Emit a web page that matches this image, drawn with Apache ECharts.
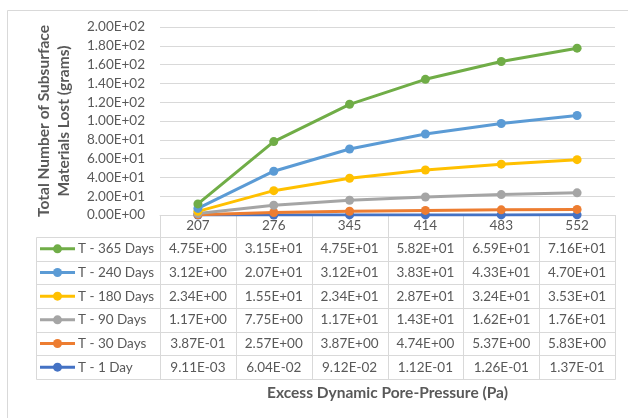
<!DOCTYPE html>
<html><head><meta charset="utf-8">
<script src="https://cdn.jsdelivr.net/npm/echarts@6/dist/echarts.min.js"></script>
<style>html,body{margin:0;padding:0;background:#fff}#c{width:628px;height:418px}</style>
</head><body><div id="c"></div>
<script>
// ---- data ----
const categories = ['207', '276', '345', '414', '483', '552'];
const seriesNames = ['T - 1 Day', 'T - 30 Days', 'T - 90 Days', 'T - 180 Days', 'T - 240 Days', 'T - 365 Days'];
const t1Day   = [0.00911, 0.0604, 0.0912, 0.112, 0.126, 0.137];
const t30Days = [0.387, 2.57, 3.87, 4.74, 5.37, 5.83];
const t90Days = [1.17, 7.75, 11.7, 14.3, 16.2, 17.6];
const t180Days = [2.34, 15.5, 23.4, 28.7, 32.4, 35.3];
const t240Days = [3.12, 20.7, 31.2, 38.3, 43.3, 47.0];
const t365Days = [4.75, 31.5, 47.5, 58.2, 65.9, 71.6];
const yMin = 0, yMax = 200, yInterval = 20;
const xTitle = 'Excess Dynamic Pore-Pressure (Pa)';
const yTitle = 'Total Number of Subsurface\nMaterials Lost (grams)';

// ---- style ----
const seriesData = [t1Day, t30Days, t90Days, t180Days, t240Days, t365Days];
const colors = ['#4472C4', '#ED7D31', '#A5A5A5', '#FFC000', '#5B9BD5', '#70AD47'];
const FONT = 'Lato';
const TXT = '#595959';
const LINE = '#D9D9D9';
const FS = 13.5;
const TFS = 15.5;

function sci(v) {
  if (v === 0) return '0.00E+00';
  const s = v.toExponential(2);
  const parts = s.split('e');
  const e = parseInt(parts[1], 10);
  const n = Math.abs(e);
  return parts[0] + 'E' + (e < 0 ? '-' : '+') + (n < 10 ? '0' : '') + n;
}

const G = { left: 160, right: 13, top: 27, bottom: 203 };
const chart = echarts.init(document.getElementById('c'), null, { renderer: 'canvas' });

chart.setOption({
  animation: false,
  backgroundColor: '#fff',
  textStyle: { fontFamily: FONT },
  grid: { left: G.left, right: G.right, top: G.top, bottom: G.bottom, containLabel: false },
  xAxis: {
    type: 'category',
    data: categories,
    boundaryGap: true,
    axisLine: { show: true, lineStyle: { color: LINE, width: 1 } },
    axisTick: { show: false },
    axisLabel: { color: TXT, fontSize: FS, fontFamily: FONT, margin: 4 },
    splitLine: { show: false }
  },
  yAxis: {
    type: 'value',
    min: yMin, max: yMax, interval: yInterval,
    axisLine: { show: false },
    axisTick: { show: false },
    axisLabel: { color: TXT, fontSize: FS, fontFamily: FONT, margin: 15, formatter: v => sci(v) },
    splitLine: { lineStyle: { color: LINE, width: 1 } },
    name: yTitle,
    nameLocation: 'middle',
    nameRotate: 90,
    nameGap: 86,
    nameTextStyle: { color: TXT, fontSize: TFS, fontWeight: 'bold', fontFamily: FONT, lineHeight: 20, align: 'center' }
  },
  series: seriesNames.map((name, i) => ({
    name: name,
    type: 'line',
    stack: 'total',
    data: seriesData[i],
    symbol: 'circle',
    symbolSize: 9,
    lineStyle: { width: 3, color: colors[i] },
    itemStyle: { color: colors[i] },
    z: 2 + i
  }))
});

// ---- data table under the plot ----
function buildTable() {
  const W = chart.getWidth(), H = chart.getHeight();
  const plotLeft = G.left, plotRight = W - G.right, plotBottom = H - G.bottom;
  const tableLeft = 36;
  const headerBottom = plotBottom + 22;
  const rowH = 23.67;
  const nRows = seriesNames.length;
  const tableBottom = headerBottom + rowH * nRows;
  const colW = (plotRight - plotLeft) / categories.length;
  const els = [];
  const px = v => Math.round(v) + 0.5;

  // outer chart frame (left + top)
  els.push({ type: 'line', shape: { x1: 7.5, y1: 10.5, x2: W + 2, y2: 10.5 }, style: { stroke: LINE, lineWidth: 1 } });
  els.push({ type: 'line', shape: { x1: 7.5, y1: 10.5, x2: 7.5, y2: H + 2 }, style: { stroke: LINE, lineWidth: 1 } });

  // vertical column boundaries
  for (let c = 0; c <= categories.length; c++) {
    const x = px(plotLeft + c * colW);
    els.push({ type: 'line', shape: { x1: x, y1: plotBottom, x2: x, y2: px(tableBottom) }, style: { stroke: LINE, lineWidth: 1 } });
  }
  // left border of legend column
  els.push({ type: 'line', shape: { x1: px(tableLeft), y1: px(headerBottom), x2: px(tableLeft), y2: px(tableBottom) }, style: { stroke: LINE, lineWidth: 1 } });
  // horizontal row lines
  for (let r = 0; r <= nRows; r++) {
    const y = px(headerBottom + r * rowH);
    els.push({ type: 'line', shape: { x1: px(tableLeft), y1: y, x2: px(plotRight), y2: y }, style: { stroke: LINE, lineWidth: 1 } });
  }

  // rows: top row is last series
  for (let r = 0; r < nRows; r++) {
    const si = nRows - 1 - r;
    const cy = headerBottom + r * rowH + rowH / 2;
    // legend key
    els.push({ type: 'line', shape: { x1: 40, y1: cy, x2: 75, y2: cy }, style: { stroke: colors[si], lineWidth: 3 }, z: 10 });
    els.push({ type: 'circle', shape: { cx: 57.5, cy: cy, r: 4.5 }, style: { fill: colors[si] }, z: 11 });
    els.push({ type: 'text', x: 78, y: cy, style: { text: seriesNames[si], fill: TXT, font: FS + 'px ' + FONT, align: 'left', verticalAlign: 'middle' }, z: 10 });
    // values
    seriesData[si].forEach((v, ci) => {
      const cx = chart.convertToPixel({ xAxisIndex: 0 }, categories[ci]);
      els.push({ type: 'text', x: cx, y: cy, style: { text: sci(v), fill: TXT, font: FS + 'px ' + FONT, align: 'center', verticalAlign: 'middle' }, z: 10 });
    });
  }

  // x axis title
  els.push({ type: 'text', x: (plotLeft + plotRight) / 2, y: tableBottom + 14, style: { text: xTitle, fill: TXT, font: 'bold ' + TFS + 'px ' + FONT, align: 'center', verticalAlign: 'middle' }, z: 10 });

  chart.setOption({ graphic: { elements: els } });
}
buildTable();
</script>
</body></html>
